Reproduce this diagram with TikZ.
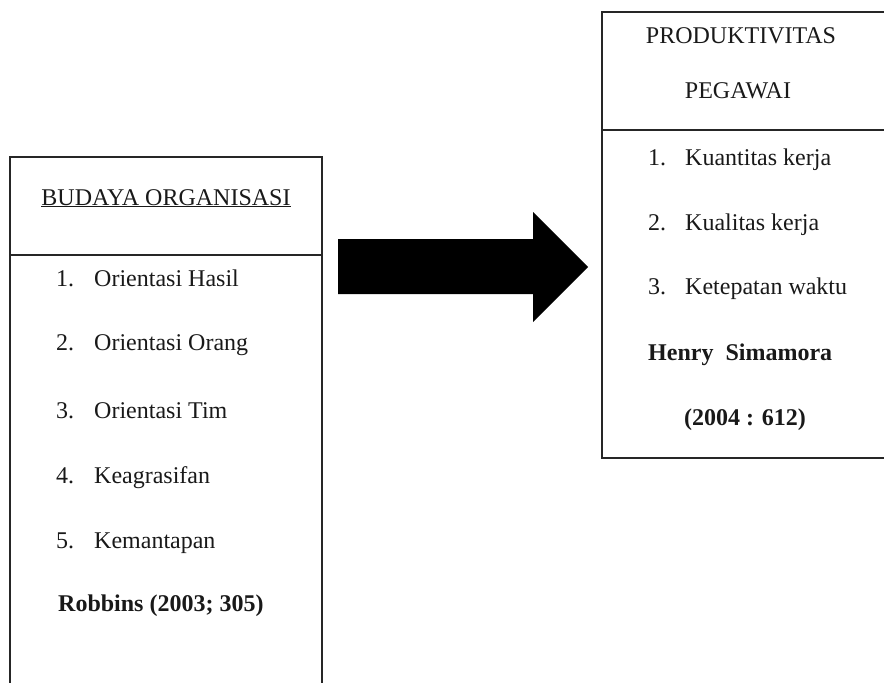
\documentclass[tikz,border=0pt]{standalone}
\usepackage{fontspec}
\setmainfont{Liberation Serif}
\begin{document}
\begin{tikzpicture}[x=1pt,y=-1pt,
  boxline/.style={line width=1.2pt, draw=black!85},
  txt/.style={inner sep=0pt, font=\fontsize{24}{28}\selectfont, text=black!90},
  btxt/.style={inner sep=0pt, font=\fontsize{24}{28}\selectfont\bfseries, text=black!90},
  num/.style={txt, anchor=base west},
  item/.style={txt, anchor=base west}]
\useasboundingbox (0,0) rectangle (884,683);
% left box
\draw[boxline] (10,690) -- (10,157) -- (322,157) -- (322,690);
\draw[boxline] (10,255) -- (322,255);
\node[txt, anchor=base] (lt) at (166,205) {\underline{BUDAYA ORGANISASI}};
\node[num] (ln1) at (56,286) {1.}; \node[item] (li1) at (94,286) {Orientasi Hasil};
\node[num] (ln2) at (56,350) {2.}; \node[item] (li2) at (94,350) {Orientasi Orang};
\node[num] (ln3) at (56,418) {3.}; \node[item] (li3) at (94,418) {Orientasi Tim};
\node[num] (ln4) at (56,483) {4.}; \node[item] (li4) at (94,483) {Keagrasifan};
\node[num] (ln5) at (56,548) {5.}; \node[item] (li5) at (94,548) {Kemantapan};
\node[btxt, anchor=base west] (lref) at (58,611) {Robbins (2003; 305)};
% arrow
\fill[black] (338,239) -- (533,239) -- (533,212) -- (588,267) -- (533,322) -- (533,294) -- (338,294) -- cycle;
% right box
\draw[boxline] (890,12) -- (602,12) -- (602,458) -- (890,458);
\draw[boxline] (602,130) -- (890,130);
\node[txt, anchor=base] (rt1) at (741,43) {PRODUKTIVITAS};
\node[txt, anchor=base] (rt2) at (738,98) {PEGAWAI};
\node[num] (rn1) at (648,165) {1.}; \node[item] (ri1) at (685,165) {Kuantitas kerja};
\node[num] (rn2) at (648,230) {2.}; \node[item] (ri2) at (685,230) {Kualitas kerja};
\node[num] (rn3) at (648,294) {3.}; \node[item] (ri3) at (685,294) {Ketepatan waktu};
\node[btxt, anchor=base west] (rref1) at (648,360) {Henry\ \ Simamora};
\node[btxt, anchor=base] (rref2) at (745,425) {(2004 : 612)};
\end{tikzpicture}
\end{document}
